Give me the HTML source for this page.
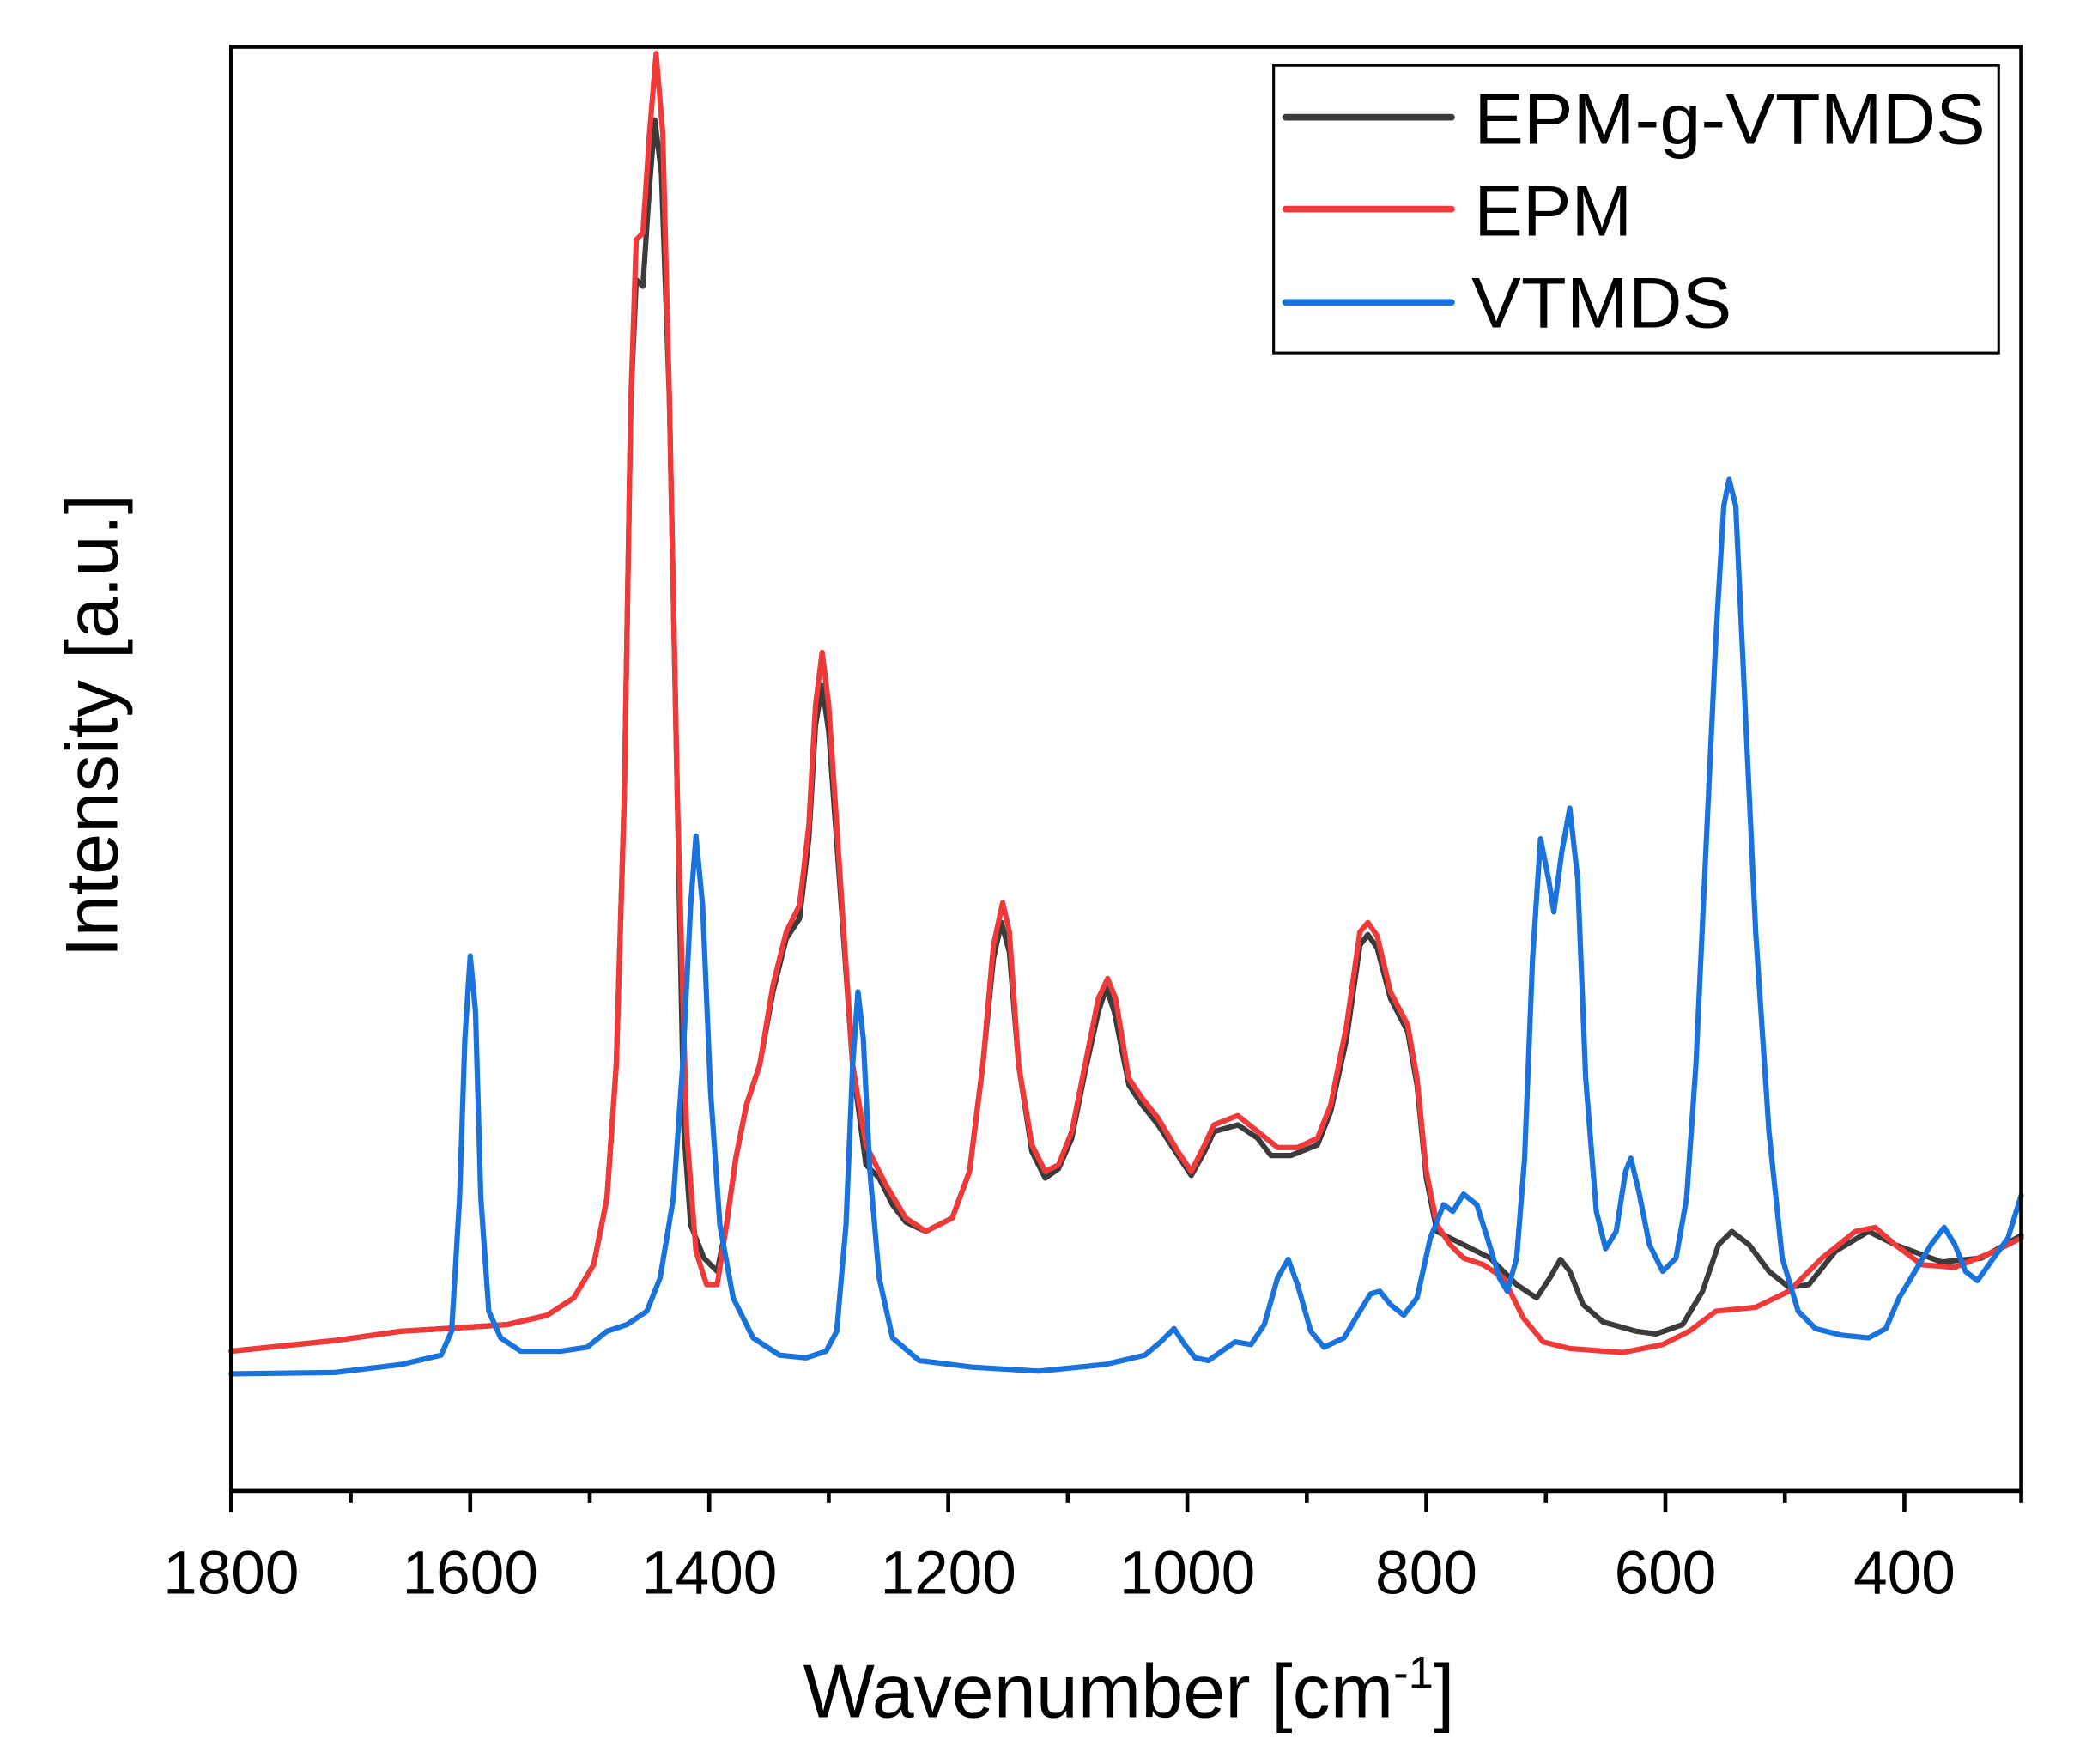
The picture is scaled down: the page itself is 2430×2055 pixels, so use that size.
<!DOCTYPE html>
<html><head><meta charset="utf-8"><style>html,body{margin:0;padding:0;background:#fff}svg{display:block}</style></head><body>
<svg width="2430" height="2055" viewBox="0 0 1552 1320" preserveAspectRatio="none" xmlns="http://www.w3.org/2000/svg" font-family="Liberation Sans, sans-serif">
<g transform="matrix(0.988,0,0,0.996,2.064,0.14)">
<g fill="none" stroke-linejoin="round" stroke-linecap="round" stroke-width="4">
<polyline stroke="#3b3b3b" points="172,1015 250,1007 300,1000 350,997 380,995 410,988 430,975 445,950 455,900 462,800 468,600 473,300 477,210 482,215 487,140 491,90 496,130 502,300 508,600 513,850 518,920 528,945 538,955 545,920 552,870 560,830 570,800 580,745 590,705 600,690 607,630 612,545 617,515 622,550 630,660 640,800 650,875 660,885 670,905 680,918 695,925 715,915 728,880 738,800 746,720 752,693 758,715 765,800 775,865 785,885 795,878 805,855 815,805 825,760 831,742 837,760 848,815 858,830 870,845 885,868 895,883 905,865 912,850 930,845 945,855 955,868 970,868 990,860 1000,835 1012,780 1022,710 1028,702 1035,712 1045,750 1058,775 1065,815 1072,885 1080,925 1100,935 1120,945 1140,965 1155,975 1165,960 1173,946 1180,955 1190,980 1205,993 1230,1000 1245,1002 1265,995 1280,970 1292,935 1302,925 1315,935 1330,955 1345,967 1360,965 1380,940 1405,925 1425,935 1460,948 1490,945 1520,928"/>
<polyline stroke="#f03a3a" points="172,1015 250,1007 300,1000 350,997 380,995 410,988 430,975 445,950 455,900 462,800 468,600 473,300 477,180 482,175 487,100 492,40 497,100 502,300 508,600 515,850 522,940 530,965 538,965 545,920 552,870 560,830 570,800 580,740 590,700 600,680 607,620 612,530 617,490 622,530 630,650 640,800 650,860 665,890 680,915 695,925 715,915 728,880 738,800 746,710 753,678 758,700 765,800 775,860 785,880 795,875 805,850 815,800 825,750 832,735 838,750 848,810 858,825 870,840 885,865 895,880 905,860 912,845 930,838 945,850 960,862 975,862 990,855 1000,830 1012,770 1022,700 1028,693 1035,703 1045,745 1058,770 1065,810 1072,880 1080,920 1090,935 1100,945 1115,950 1130,960 1145,990 1160,1008 1180,1013 1220,1016 1250,1010 1270,1000 1290,985 1320,982 1345,970 1370,945 1395,925 1410,922 1425,935 1445,950 1470,952 1500,940 1520,930"/>
<polyline stroke="#1a72dd" points="172,1032 250,1031 300,1025 330,1018 338,1000 344,900 348,780 352,718 356,760 360,900 366,985 375,1005 390,1015 420,1015 440,1012 455,1000 470,995 485,985 495,960 505,900 512,800 518,680 522,628 527,680 533,820 540,920 550,975 565,1005 585,1018 605,1020 620,1015 628,1000 635,920 640,800 644,745 648,780 653,880 660,960 670,1005 690,1022 730,1027 780,1030 830,1025 860,1018 872,1008 882,998 890,1010 898,1020 908,1022 918,1015 928,1008 940,1010 950,995 960,960 968,946 975,965 985,1000 995,1012 1010,1005 1022,985 1030,972 1037,970 1045,980 1055,988 1065,975 1075,930 1085,905 1092,910 1100,897 1110,905 1118,930 1127,960 1133,970 1140,945 1146,870 1152,720 1158,630 1164,660 1168,685 1174,640 1180,607 1186,660 1192,810 1200,910 1207,938 1215,925 1222,880 1226,870 1232,895 1240,935 1250,955 1260,945 1268,900 1275,800 1282,650 1290,480 1296,380 1300,360 1305,380 1312,530 1320,700 1330,850 1340,945 1352,985 1365,998 1385,1003 1405,1005 1418,998 1428,975 1440,955 1452,935 1462,922 1470,935 1478,955 1487,962 1497,948 1510,930 1520,898"/>
</g>
<rect x="172" y="35" width="1348" height="1085" fill="none" stroke="#000" stroke-width="3"/>
<g stroke="#000" stroke-width="3">
<line x1="172" y1="1120" x2="172" y2="1136"/><line x1="262" y1="1120" x2="262" y2="1129"/>
<line x1="352" y1="1120" x2="352" y2="1136"/><line x1="442" y1="1120" x2="442" y2="1129"/>
<line x1="532" y1="1120" x2="532" y2="1136"/><line x1="622" y1="1120" x2="622" y2="1129"/>
<line x1="712" y1="1120" x2="712" y2="1136"/><line x1="802" y1="1120" x2="802" y2="1129"/>
<line x1="892" y1="1120" x2="892" y2="1136"/><line x1="982" y1="1120" x2="982" y2="1129"/>
<line x1="1072" y1="1120" x2="1072" y2="1136"/><line x1="1162" y1="1120" x2="1162" y2="1129"/>
<line x1="1252" y1="1120" x2="1252" y2="1136"/><line x1="1342" y1="1120" x2="1342" y2="1129"/>
<line x1="1432" y1="1120" x2="1432" y2="1136"/><line x1="1520" y1="1120" x2="1520" y2="1129"/>
</g>
<g font-size="46" text-anchor="middle" fill="#000">
<text x="172" y="1197">1800</text><text x="352" y="1197">1600</text><text x="532" y="1197">1400</text>
<text x="712" y="1197">1200</text><text x="892" y="1197">1000</text><text x="1072" y="1197">800</text>
<text x="1252" y="1197">600</text><text x="1432" y="1197">400</text>
</g>
<text x="848" y="1290" font-size="57" text-anchor="middle">Wavenumber [cm<tspan font-size="34" dy="-22">-1</tspan><tspan dy="22">]</tspan></text>
<text transform="translate(86,545) rotate(-90)" font-size="56" text-anchor="middle">Intensity [a.u.]</text>
<rect x="957" y="49" width="546" height="216" fill="#fff" stroke="#000" stroke-width="2"/>
<g stroke-width="5" stroke-linecap="round">
<line x1="966" y1="88" x2="1091" y2="88" stroke="#3b3b3b"/>
<line x1="966" y1="157" x2="1091" y2="157" stroke="#f03a3a"/>
<line x1="966" y1="227" x2="1091" y2="227" stroke="#1a72dd"/>
</g>
<g font-size="54" fill="#000">
<text x="1108" y="108" textLength="385" lengthAdjust="spacingAndGlyphs">EPM-g-VTMDS</text>
<text x="1108" y="177" textLength="119" lengthAdjust="spacingAndGlyphs">EPM</text>
<text x="1106" y="246" textLength="196" lengthAdjust="spacingAndGlyphs">VTMDS</text>
</g>
</g>
</svg>
</body></html>
